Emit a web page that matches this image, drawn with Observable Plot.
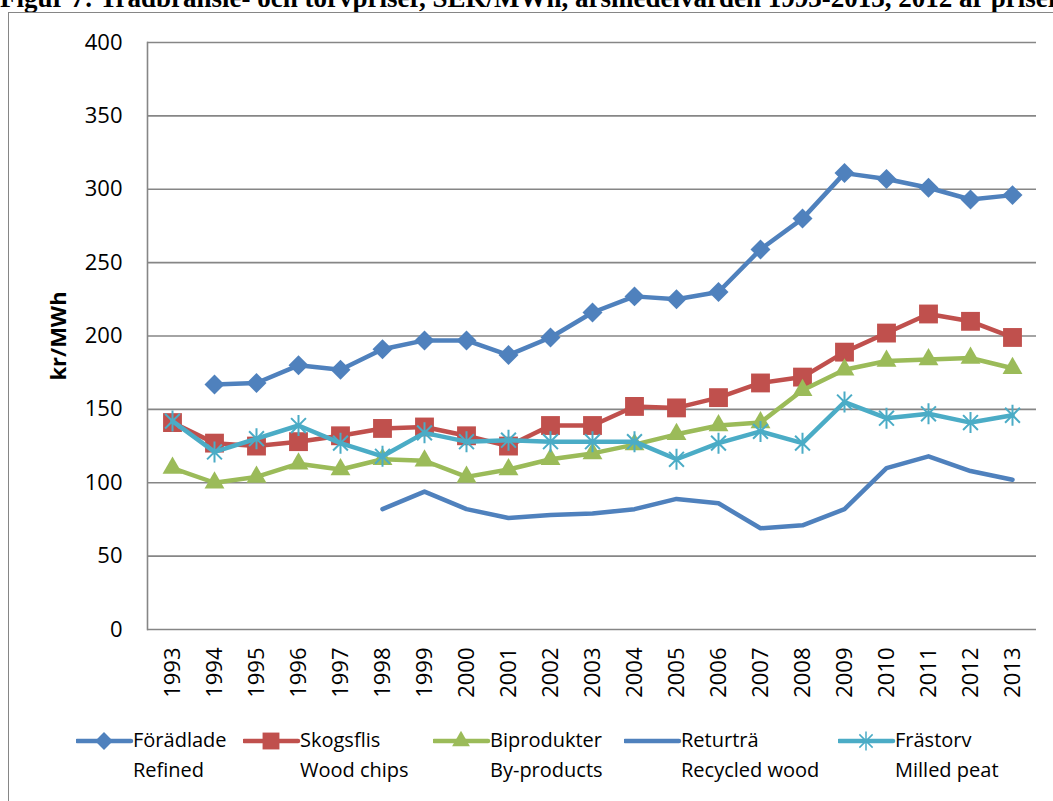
<!DOCTYPE html>
<html>
<head>
<meta charset="utf-8">
<script src="https://cdn.jsdelivr.net/npm/d3@7"></script>
<script src="https://cdn.jsdelivr.net/npm/@observablehq/plot@0.6"></script>
<style>
  html, body { margin: 0; padding: 0; background: #fff; }
  body { width: 1053px; height: 801px; overflow: hidden; position: relative; }
  #title { position: absolute; left: 0; top: -15.5px; white-space: nowrap;
    font-family: "Liberation Serif", serif; font-weight: bold; font-size: 27px; line-height: 27px; color: #000; }
  #box { position: absolute; left: 8px; top: 12px; width: 1100px; height: 850px; border: 1px solid #868686; }
  #chart { position: absolute; left: 0; top: 0; }
  #legend { position: absolute; left: 0; top: 726px; width: 1053px; height: 70px;
    font-family: "Open Sans", sans-serif; font-size: 20px; color: #000; }
  .item { position: absolute; top: 0; }
  .item svg { position: absolute; left: 0; top: 3px; }
  .item .t1 { position: absolute; top: 0; white-space: nowrap; line-height: 28px; }
  .item .t2 { position: absolute; top: 30px; white-space: nowrap; line-height: 28px; }
</style>
</head>
<body>
<div id="title">Figur 7: Trädbränsle- och torvpriser, SEK/MWh, årsmedelvärden 1993-2013, 2012 år priser</div>
<div id="box"></div>
<div id="chart"></div>
<div id="legend"></div>
<script>
const years = ["1993","1994","1995","1996","1997","1998","1999","2000","2001","2002","2003","2004","2005","2006","2007","2008","2009","2010","2011","2012","2013"];
const foradlade   = [null,167,168,180,177,191,197,197,187,199,216,227,225,230,259,280,311,307,301,293,296];
const skogsflis   = [141,127,125,128,132,137,138,132,125,139,139,152,151,158,168,172,189,202,215,210,199];
const biprodukter = [110,100,104,113,109,116,115,104,109,116,120,126,133,139,141,163,177,183,184,185,178];
const returtra    = [null,null,null,null,null,82,94,82,76,78,79,82,89,86,69,71,82,110,118,108,102];
const frastorv    = [142,121,130,139,127,118,134,128,129,128,128,128,116,127,135,127,155,144,147,141,146];

const seriesNames = ["Förädlade","Skogsflis","Biprodukter","Returträ","Frästorv"];
const seriesEnglish = ["Refined","Wood chips","By-products","Recycled wood","Milled peat"];
const seriesColors = ["#4F81BD","#C0504D","#9BBB59","#4F81BD","#4BACC6"];
const seriesSymbols = ["diamond2","square2","triangle2",null,"star"];
const yTicks = [0,50,100,150,200,250,300,350,400];

// Excel-style star marker: X with a vertical bar
const excelStar = {
  draw(context, size) {
    const r = Math.sqrt(size / Math.PI);
    const d = r * Math.SQRT1_2;
    context.moveTo(0, -r); context.lineTo(0, r);
    context.moveTo(-d, -d); context.lineTo(d, d);
    context.moveTo(-d, d); context.lineTo(d, -d);
  }
};
const symbolMap = {diamond2: d3.symbolDiamond2, square2: d3.symbolSquare2, triangle2: d3.symbolTriangle2, star: excelStar};
const symbolR = {diamond2: 9, square2: 12, triangle2: 9.5, star: 10.5};

const marks = [
  Plot.gridY(yTicks, {stroke: "#868686", strokeOpacity: 1, strokeWidth: 1.6}),
  Plot.frame({anchor: "left", stroke: "#868686", strokeWidth: 1.6}),
  Plot.axisY(yTicks, {tickSize: 0, tickPadding: 25, fontSize: 22, label: "kr/MWh", labelArrow: "none", labelAnchor: "center", labelOffset: 97}),
  Plot.axisX({tickSize: 0, tickPadding: 18, tickRotate: -90, fontSize: 22, label: null})
];
seriesNames.forEach((name, i) => {
  const data = years.map((yr, j) => ({year: yr, value: [foradlade, skogsflis, biprodukter, returtra, frastorv][i][j]})).filter(d => d.value != null);
  marks.push(Plot.lineY(data, {x: "year", y: "value", stroke: seriesColors[i], strokeWidth: 4.5, strokeLinejoin: "round", strokeLinecap: "round"}));
  const sym = seriesSymbols[i];
  if (sym) {
    if (sym === "star") {
      marks.push(Plot.dot(data, {x: "year", y: "value", symbol: symbolMap[sym], r: symbolR[sym], stroke: seriesColors[i], strokeWidth: 2}));
    } else {
      marks.push(Plot.dot(data, {x: "year", y: "value", symbol: symbolMap[sym], r: symbolR[sym], fill: seriesColors[i], stroke: "none"}));
    }
  }
});

const chart = Plot.plot({
  width: 1053,
  height: 712,
  marginTop: 42,
  marginBottom: 83,
  marginLeft: 147,
  marginRight: 17,
  style: {fontFamily: "'Open Sans', sans-serif", color: "#000", background: "transparent", overflow: "visible"},
  x: {type: "point", domain: years, padding: 0.5},
  y: {domain: [0, 400]},
  marks
});
chart.querySelectorAll("g[aria-label='y-axis label']").forEach(g => {
  g.setAttribute("font-weight", "bold");
  g.setAttribute("font-size", "22");
  g.querySelectorAll("text").forEach(t => { t.textContent = "kr/MWh"; });
});
document.getElementById("chart").appendChild(chart);

// legend
const legendLeft = [76, 243, 433, 624, 838];
const legend = document.getElementById("legend");
seriesNames.forEach((name, i) => {
  const item = document.createElement("div");
  item.className = "item";
  item.style.left = legendLeft[i] + "px";
  const svg = d3.create("svg").attr("width", 58).attr("height", 24);
  svg.append("line").attr("x1", 1).attr("x2", 55).attr("y1", 12).attr("y2", 12)
    .attr("stroke", seriesColors[i]).attr("stroke-width", 4.5).attr("stroke-linecap", "round");
  const sym = seriesSymbols[i];
  if (sym) {
    const r = symbolR[sym];
    const p = svg.append("path").attr("transform", "translate(28,12)")
      .attr("d", d3.symbol(symbolMap[sym], Math.PI * r * r * 0.8)());
    if (sym === "star") p.attr("fill", "none").attr("stroke", seriesColors[i]).attr("stroke-width", 1.5);
    else p.attr("fill", seriesColors[i]);
  }
  item.appendChild(svg.node());
  const t1 = document.createElement("div"); t1.className = "t1"; t1.style.left = "57px"; t1.textContent = name;
  const t2 = document.createElement("div"); t2.className = "t2"; t2.style.left = "57px"; t2.textContent = seriesEnglish[i];
  item.appendChild(t1); item.appendChild(t2);
  legend.appendChild(item);
});
</script>
</body>
</html>
